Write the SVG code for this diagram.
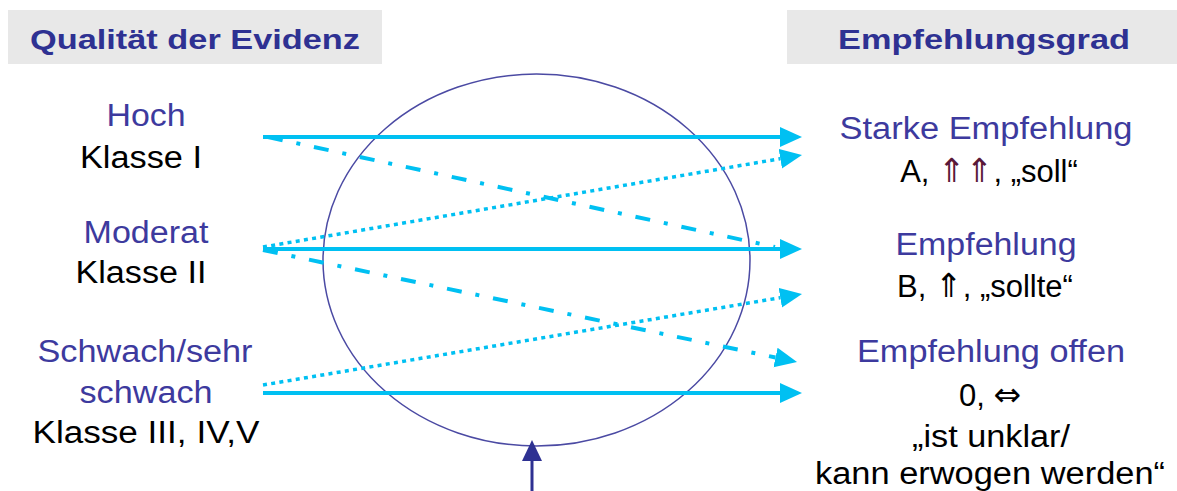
<svg xmlns="http://www.w3.org/2000/svg" width="1177" height="491" viewBox="0 0 1177 491">
<style>
.hdr{fill:#e8e8e8}
.title{font-family:"Liberation Sans",Arial,sans-serif;font-weight:bold;font-size:28px;fill:#2e3192}
.lbl{font-family:"Liberation Sans",Arial,sans-serif;font-size:31px;fill:#3d3a9e}
.txt{font-family:"Liberation Sans",Arial,sans-serif;font-size:31px;fill:#000}
.sym{font-family:"DejaVu Sans",sans-serif;font-size:33px}
.ln{fill:none;stroke:#00c0f2;stroke-width:4}
.dd{stroke-dasharray:15 14 4 14}
.dot{stroke-dasharray:4 4.3;stroke-width:3.5}
</style>
<defs>
<marker id="ah" markerUnits="userSpaceOnUse" markerWidth="24" markerHeight="22" refX="0" refY="10" orient="auto" viewBox="0 0 24 22">
<path d="M0,0 L22,10 L0,20 Z" fill="#00c0f2"/>
</marker>
<marker id="ahb" markerUnits="userSpaceOnUse" markerWidth="22" markerHeight="22" refX="0" refY="10" orient="auto" viewBox="0 0 22 22">
<path d="M0,0 L21,10 L0,20 Z" fill="#2e3192"/>
</marker>
</defs>
<rect width="1177" height="491" fill="#fff"/>
<g id="header-left">
<rect class="hdr" x="8" y="10" width="374" height="54"/>
<text class="title" x="195" y="49" text-anchor="middle" textLength="330" lengthAdjust="spacingAndGlyphs">Qualität der Evidenz</text>
</g>
<g id="header-right">
<rect class="hdr" x="787" y="10" width="390" height="54"/>
<text class="title" x="984" y="49" text-anchor="middle" textLength="292" lengthAdjust="spacingAndGlyphs">Empfehlungsgrad</text>
</g>
<g id="circle">
<ellipse cx="536.5" cy="260" rx="213.5" ry="186" fill="none" stroke="#4b4aa3" stroke-width="1.5"/>
</g>
<g id="connectors">
<path class="ln" d="M263,137 L780,137" marker-end="url(#ah)"/>
<path class="ln dd" d="M268,137 L775,247"/>
<path class="ln dot" d="M263,247 L780.3,158.7" marker-end="url(#ah)"/>
<path class="ln" d="M263,249 L780,249" marker-end="url(#ah)"/>
<path class="ln dd" d="M263,250 L775.5,357.5" marker-end="url(#ah)"/>
<path class="ln dot" d="M263,385 L780.3,297.7" marker-end="url(#ah)"/>
<path class="ln" d="M263,393 L780,393" marker-end="url(#ah)"/>
<path d="M532,491 L532,461" fill="none" stroke="#2e3192" stroke-width="3" marker-end="url(#ahb)"/>
</g>
<g id="hoch">
<text class="lbl" x="146" y="126" text-anchor="middle" textLength="79" lengthAdjust="spacingAndGlyphs">Hoch</text>
<text class="txt" x="141" y="168" text-anchor="middle" textLength="122" lengthAdjust="spacingAndGlyphs">Klasse I</text>
</g>
<g id="moderat">
<text class="lbl" x="146" y="243" text-anchor="middle" textLength="125" lengthAdjust="spacingAndGlyphs">Moderat</text>
<text class="txt" x="141" y="283" text-anchor="middle" textLength="131" lengthAdjust="spacingAndGlyphs">Klasse II</text>
</g>
<g id="schwach">
<text class="lbl" x="145" y="362" text-anchor="middle" textLength="215" lengthAdjust="spacingAndGlyphs">Schwach/sehr</text>
<text class="lbl" x="146" y="403" text-anchor="middle" textLength="133" lengthAdjust="spacingAndGlyphs">schwach</text>
<text class="txt" x="146" y="443" text-anchor="middle" textLength="227" lengthAdjust="spacingAndGlyphs">Klasse III, IV,V</text>
</g>
<g id="stark">
<text class="lbl" x="986" y="139" text-anchor="middle" textLength="293" lengthAdjust="spacingAndGlyphs">Starke Empfehlung</text>
<text class="txt" x="989" y="182" text-anchor="middle">A,  <tspan class="sym" fill="#5a1838">⇑⇑</tspan>, „soll“</text>
</g>
<g id="empfehlung">
<text class="lbl" x="986" y="255" text-anchor="middle" textLength="181" lengthAdjust="spacingAndGlyphs">Empfehlung</text>
<text class="txt" x="985" y="297" text-anchor="middle">B, <tspan class="sym">⇑</tspan>, „sollte“</text>
</g>
<g id="offen">
<text class="lbl" x="991" y="362" text-anchor="middle" textLength="268" lengthAdjust="spacingAndGlyphs">Empfehlung offen</text>
<text class="txt" x="990" y="406" text-anchor="middle">0, <tspan class="sym">⇔</tspan></text>
<text class="txt" x="991" y="447" text-anchor="middle" textLength="158" lengthAdjust="spacingAndGlyphs">„ist unklar/</text>
<text class="txt" x="990" y="484" text-anchor="middle" textLength="350" lengthAdjust="spacingAndGlyphs">kann erwogen werden“</text>
</g>
</svg>
